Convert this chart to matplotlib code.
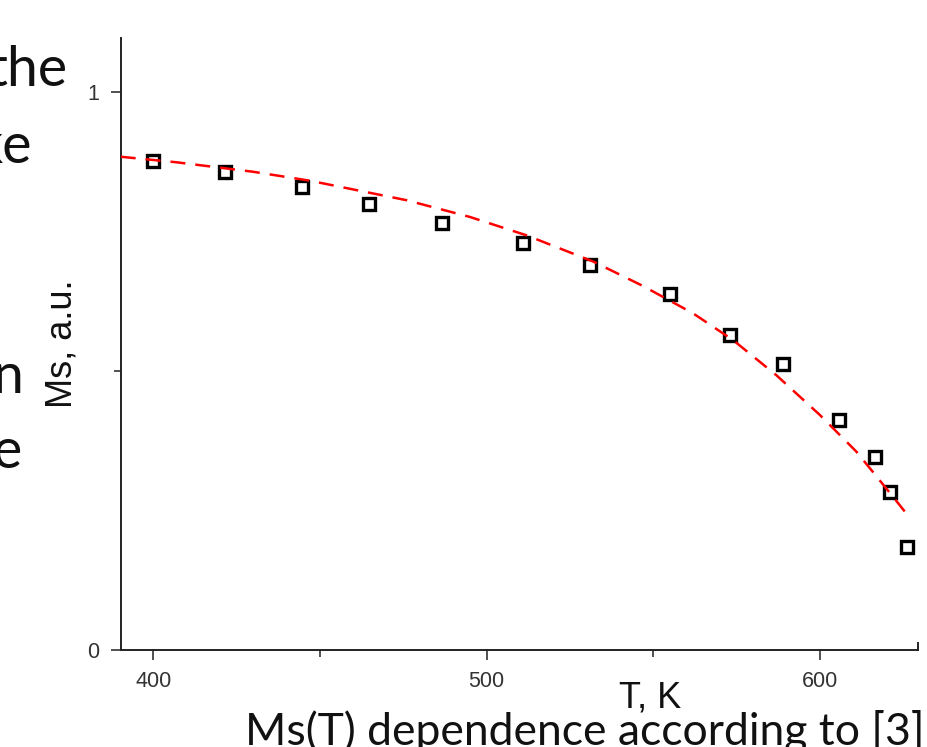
import matplotlib
matplotlib.use("Agg")
import matplotlib.pyplot as plt
from matplotlib.ticker import MultipleLocator, NullFormatter

# measured saturation magnetisation (normalised) vs temperature
T_data = [400.0, 421.5, 444.5, 464.8, 486.5, 510.8, 531.2, 555.2, 573.2, 589.0, 605.7, 616.5, 621.2, 626.2]
Ms_data = [0.877, 0.857, 0.829, 0.800, 0.766, 0.730, 0.690, 0.638, 0.564, 0.513, 0.412, 0.346, 0.283, 0.184]

# fitted curve, sampled points
T_fit = [390.2, 407, 430, 447, 476, 495, 512, 532, 547, 562, 574, 587, 600, 611, 622, 626]
Ms_fit = [0.884, 0.874, 0.857, 0.841, 0.806, 0.776, 0.743, 0.696, 0.652, 0.603, 0.555, 0.492, 0.421, 0.355, 0.274, 0.244]

# slide text that sits to the left of the plot
side_words = ["the", "ke", "n", "e"]

W, H = 927, 747
fig = plt.figure(figsize=(W / 100, H / 100), dpi=100)
fig.patch.set_facecolor("white")

ax = fig.add_axes([120.7 / W, 1 - 649.5 / H, (918 - 120.7) / W, (649.5 - 38) / H])
ax.set_xlim(390.2, 629.5)
ax.set_ylim(0, 1.097)

ax.plot(T_data, Ms_data, ls="none", marker="s", ms=8.9, mew=2.4, mec="black", mfc="white", zorder=3)
ax.plot(T_fit, Ms_fit, color="#ff0000", lw=1.8, dashes=(6, 4), zorder=4)

ax.spines["top"].set_visible(False)
ax.spines["right"].set_bounds(0, 0.012)
for s in ["left", "bottom", "right"]:
    ax.spines[s].set_linewidth(1.4)
    ax.spines[s].set_color("#222222")

ax.xaxis.set_major_locator(MultipleLocator(100))
ax.xaxis.set_minor_locator(MultipleLocator(50))
ax.yaxis.set_major_locator(MultipleLocator(1))
ax.yaxis.set_minor_locator(MultipleLocator(0.5))
ax.yaxis.set_major_formatter(lambda v, p: f"{v:g}")
ax.xaxis.set_minor_formatter(NullFormatter())
ax.tick_params(which="major", direction="out", length=7.5, width=1.1, color="#222222",
               labelsize=15.5, labelcolor="#333333", pad=8)
ax.tick_params(which="minor", direction="out", length=5, width=1.1, color="#222222")
ax.tick_params(axis="y", which="both", right=False)
for lab in ax.get_xticklabels() + ax.get_yticklabels():
    lab.set_fontfamily("Liberation Sans")

ax.set_xlabel("T, K", fontsize=26, family="Liberation Sans", color="#111111")
ax.xaxis.set_label_coords(0.664, -0.05)
ax.set_ylabel("Ms, a.u.", fontsize=26, family="Liberation Sans", color="#111111")
ax.yaxis.set_label_coords(-0.052, 0.5)

# cut-off slide words and caption below the chart
side_pos = [(68, 86), (32, 163), (23, 393), (22, 468)]
for word, (x, y) in zip(side_words, side_pos):
    fig.text(x / W, 1 - y / H, word, ha="right", va="baseline", fontsize=40,
             family="Lato", color="#111111")
fig.text(245 / W, 1 - 745 / H, "Ms(T) dependence according to [3]", ha="left", va="baseline",
         fontsize=32, family="Lato", color="#111111")

fig.savefig("out.png", dpi=100, facecolor="white")
